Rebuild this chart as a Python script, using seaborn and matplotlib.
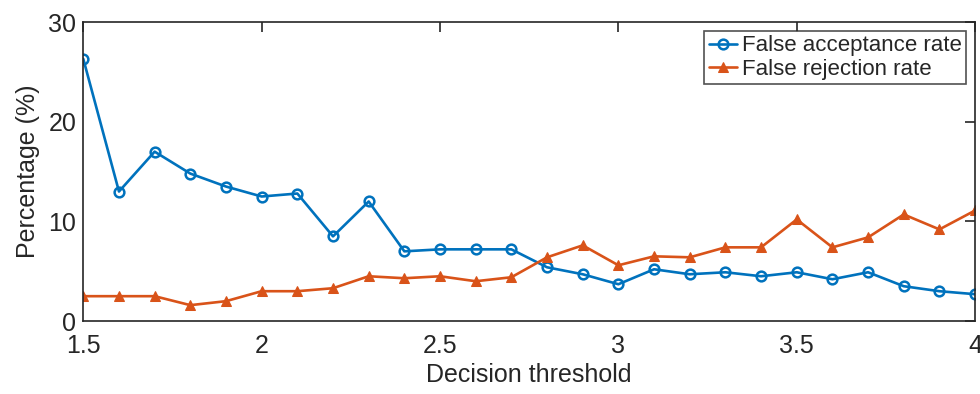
import matplotlib
matplotlib.use("Agg")
import matplotlib.pyplot as plt
import seaborn as sns
import pandas as pd

# decision thresholds 1.5 .. 4.0
thresholds = [1.5, 1.6, 1.7, 1.8, 1.9, 2.0, 2.1, 2.2, 2.3, 2.4, 2.5, 2.6, 2.7,
              2.8, 2.9, 3.0, 3.1, 3.2, 3.3, 3.4, 3.5, 3.6, 3.7, 3.8, 3.9, 4.0]
far = [26.3, 13.0, 17.0, 14.8, 13.5, 12.5, 12.8, 8.5, 12.0, 7.0, 7.2, 7.2, 7.2,
       5.4, 4.7, 3.7, 5.2, 4.7, 4.9, 4.5, 4.9, 4.2, 4.9, 3.5, 3.0, 2.7]
frr = [2.5, 2.5, 2.5, 1.6, 2.0, 3.0, 3.0, 3.3, 4.5, 4.3, 4.5, 4.0, 4.4,
       6.4, 7.6, 5.6, 6.5, 6.4, 7.4, 7.4, 10.2, 7.4, 8.4, 10.7, 9.2, 11.1]

sns.set_style("white")
plt.rcParams["font.family"] = ["Liberation Sans", "DejaVu Sans"]

fig = plt.figure(figsize=(9.8, 3.94), dpi=100)
ax = fig.add_axes([0.085, 0.185, 0.91, 0.759])

df = pd.DataFrame({"x": thresholds, "far": far, "frr": frr})
sns.lineplot(data=df, x="x", y="far", ax=ax, color="#0072BD", linewidth=1.9,
             marker="o", markersize=7, markerfacecolor="none",
             markeredgecolor="#0072BD", markeredgewidth=1.8,
             label="False acceptance rate")
sns.lineplot(data=df, x="x", y="frr", ax=ax, color="#D95319", linewidth=1.9,
             marker="^", markersize=7, markerfacecolor="#D95319",
             markeredgecolor="#D95319", label="False rejection rate")

ax.set_xlim(1.5, 4)
ax.set_ylim(0, 30)
ax.set_xticks([1.5, 2, 2.5, 3, 3.5, 4])
ax.set_xticklabels(["1.5", "2", "2.5", "3", "3.5", "4"])
ax.set_yticks([0, 10, 20, 30])
ax.tick_params(direction="in", top=True, right=True, length=7, width=1.2,
               labelsize=18, colors="#262626")
ax.tick_params(axis="x", pad=9)
ax.tick_params(axis="y", pad=5)
for s in ax.spines.values():
    s.set_linewidth(1.2)
    s.set_color("#262626")
ax.set_xlabel("Decision threshold", fontsize=18, color="#262626", labelpad=4)
ax.set_ylabel("Percentage (%)", fontsize=18, color="#262626", labelpad=6)

leg = ax.legend(loc="upper right", fontsize=16, frameon=True, fancybox=False,
                handlelength=1.3, handletextpad=0.2, borderpad=0.2,
                labelspacing=0.1, borderaxespad=0.4)
leg.get_frame().set_edgecolor("#262626")
leg.get_frame().set_linewidth(1.2)

fig.savefig("out.png", dpi=100)
